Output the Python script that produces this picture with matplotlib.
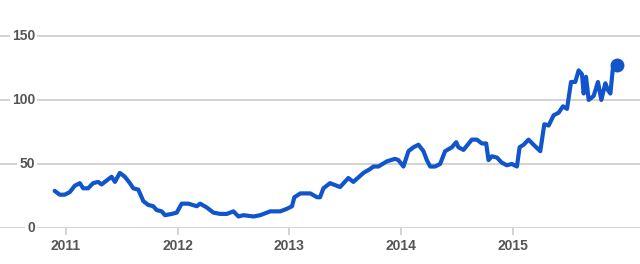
import matplotlib
matplotlib.use('Agg')
import matplotlib.pyplot as plt

# decimal year and interest value
years = [2010.901, 2010.946, 2010.991, 2011.036, 2011.081, 2011.126, 2011.156, 2011.200,
         2011.245, 2011.290, 2011.320, 2011.365, 2011.410, 2011.440, 2011.484, 2011.529,
         2011.574, 2011.604, 2011.649, 2011.694, 2011.738, 2011.783, 2011.813, 2011.858,
         2011.888, 2011.948, 2011.993, 2012.037, 2012.097, 2012.172, 2012.202, 2012.262,
         2012.321, 2012.381, 2012.441, 2012.500, 2012.545, 2012.590, 2012.680, 2012.740,
         2012.829, 2012.919, 2012.979, 2013.024, 2013.045, 2013.099, 2013.188, 2013.248,
         2013.275, 2013.305, 2013.364, 2013.454, 2013.528, 2013.573, 2013.663, 2013.722,
         2013.752, 2013.797, 2013.872, 2013.946, 2013.976, 2014.021, 2014.066, 2014.110,
         2014.155, 2014.200, 2014.230, 2014.260, 2014.304, 2014.349, 2014.394, 2014.454,
         2014.493, 2014.513, 2014.558, 2014.633, 2014.678, 2014.722, 2014.761, 2014.782,
         2014.812, 2014.857, 2014.901, 2014.946, 2014.991, 2015.036, 2015.060, 2015.096,
         2015.140, 2015.185, 2015.245, 2015.281, 2015.320, 2015.364, 2015.409, 2015.448,
         2015.484, 2015.520, 2015.558, 2015.588, 2015.618, 2015.633, 2015.654, 2015.678,
         2015.722, 2015.761, 2015.791, 2015.827, 2015.848, 2015.872, 2015.896, 2015.931]
values = [29, 26, 26, 28, 33, 35, 31, 31,
          35, 36, 34, 37, 40, 36, 43, 40,
          35, 31, 30, 21, 18, 17, 14, 13,
          10, 11, 12, 19, 19, 17, 19, 16,
          12, 11, 11, 13, 9, 10, 9, 10,
          13, 13, 15, 17, 24, 27, 27, 24,
          24, 31, 35, 32, 39, 36, 43, 46,
          48, 48, 52, 54, 53, 48, 60, 63,
          65, 60, 53, 48, 48, 50, 60, 63,
          67, 63, 61, 69, 69, 66, 66, 53,
          56, 55, 51, 49, 50, 48, 63, 65,
          69, 65, 60, 81, 80, 88, 90, 95,
          93, 114, 114, 123, 120, 105, 118, 100,
          103, 114, 100, 113, 108, 105, 126, 127]

year_ticks = [2011, 2012, 2013, 2014, 2015]
value_ticks = [0, 50, 100, 150]

line_blue = '#1155cc'
label_grey = '#555555'
grid_grey = '#cccccc'

fig = plt.figure(figsize=(6.4, 2.64), dpi=100)
ax = fig.add_axes([0, 36 / 264, 1, 228 / 264])
ax.set_xlim(2010.412, 2016.137)
ax.set_ylim(0, 178)

for v in value_ticks:
    ax.axhline(v, color=grid_grey, lw=1.2, zorder=1)
    ax.text(2010.412 + 35 / 111.8, v, str(v), ha='right', va='center',
            fontsize=10, fontweight='bold', color=label_grey, family='Liberation Sans',
            bbox=dict(facecolor='white', edgecolor='none', pad=1.5), zorder=2)

ax.plot(years, values, color=line_blue, lw=3, solid_joinstyle='round',
        solid_capstyle='round', zorder=3)
ax.plot(years[-1], values[-1], 'o', color=line_blue, ms=9, zorder=4)

for s in ax.spines.values():
    s.set_visible(False)
ax.set_yticks([])
ax.set_xticks(year_ticks)
ax.set_xticklabels([str(y) for y in year_ticks], fontsize=10, fontweight='bold',
                   color=label_grey, family='Liberation Sans')
ax.tick_params(axis='x', length=5, width=1.2, color=grid_grey, pad=3)

fig.savefig('out.png', dpi=100, facecolor='white')
